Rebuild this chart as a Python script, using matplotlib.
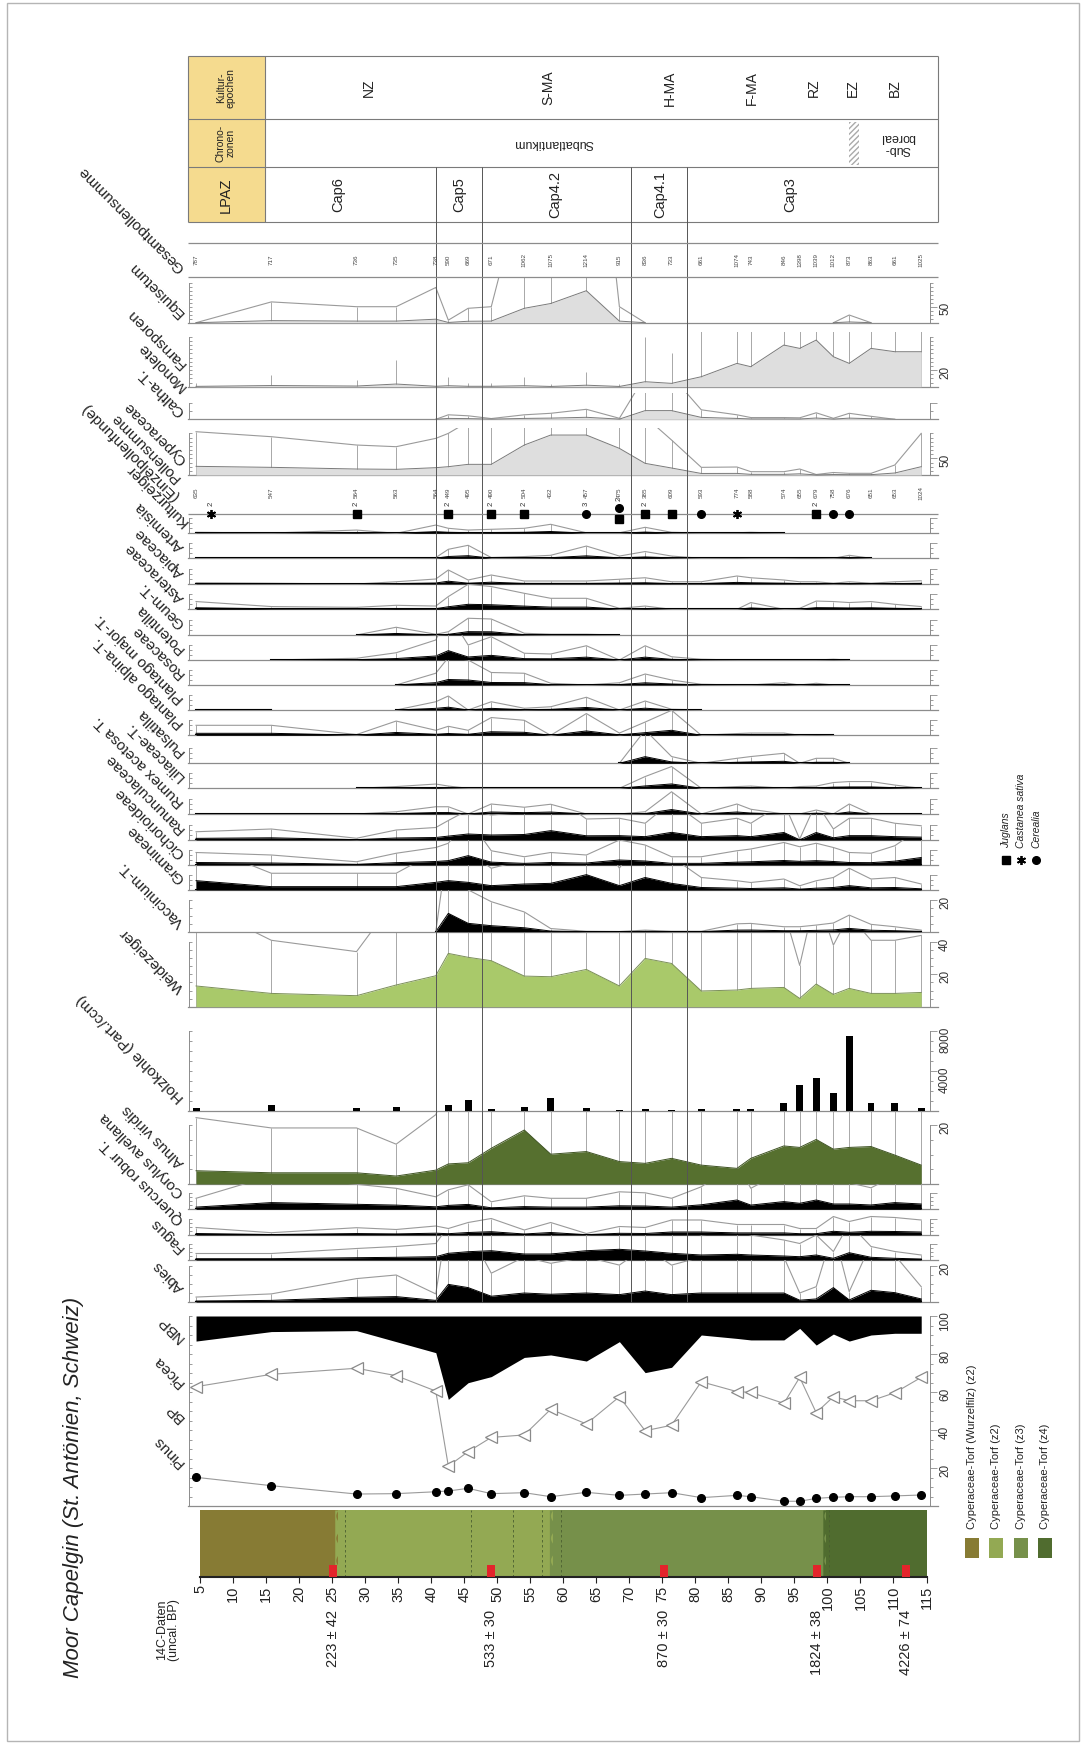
import numpy as np
import matplotlib
matplotlib.use('Agg')
import matplotlib.pyplot as plt
import matplotlib.transforms as mtrans
from matplotlib.patches import Rectangle

plt.rcParams['font.family'] = ['Liberation Sans', 'DejaVu Sans']

nan = np.nan

# ---- data -------------------------------------------------------------
depth = [4.4, 15.8, 28.7, 34.7, 40.7, 42.6, 45.6, 49.1, 54.1, 58.1, 63.5, 68.5, 72.4,
         76.4, 80.9, 86.3, 88.4, 93.4, 95.8, 98.3, 100.9, 103.3, 106.6, 110.2, 114.2]

zone_bounds = [40.7, 47.7, 70.2, 78.7]
lpaz_names = ['Cap6', 'Cap5', 'Cap4.2', 'Cap4.1', 'Cap3']
lpaz_pos = [26.0, 44.2, 58.8, 74.7, 94.4]
kultur_names = ['NZ', 'S-MA', 'H-MA', 'F-MA', 'RZ', 'EZ', 'BZ']
kultur_pos = [30.6, 57.7, 76.2, 88.6, 97.9, 103.9, 110.2]
chrono_names = ['Subatlantikum', 'Sub-\nboreal']
chrono_pos = [58.5, 110.6]
chrono_hatch = [103.3, 104.8]

gesamt = [787, 717, 736, 735, 738, 590, 669, 671, 1062, 1075, 1214, 915, 836, 733, 661,
          1074, 743, 846, 1398, 1039, 1012, 873, 863, 661, 1025]
pollensumme = [635, 547, 564, 563, 564, 449, 495, 490, 504, 432, 457, 475, 385, 609, 593,
               774, 588, 574, 655, 679, 758, 676, 651, 653, 1024]

equisetum = [0, 6.5, 5, 5, 11, 0.8, 4.5, 5, 45, 60, 100, 5, 0, nan, nan, nan, nan, nan,
             nan, nan, 0, 2.4, 0, nan, nan]
monolete = [0.4, 1.4, 0.8, 3.2, 0.5, 1.2, 0.5, 0.5, 1.2, 0.3, 1.8, 0.3, 6, 4, 12, 28, 24,
            50, 46, 56, 36, 28, 46, 42, 42]
caltha = [nan, nan, nan, nan, 0, 0.9, 0.7, 0.15, 0.9, 1.2, 2, 0.2, 8.7, 8.7, 1.9, 0.9,
          0.35, 0.35, 0.3, 1.3, 0.2, 1.2, 0.6, 0, nan]
cyperaceae = [26, 23, 18, 17, 22, 25, 32, 32, 90, 120, 120, 80, 35, 21, 4.6, 4.8, 2, 2,
              3.6, 0.3, 1.5, 1, 1, 6, 25]

# Kulturzeiger (single finds)
kz_depth = [6.7, 28.7, 42.6, 49.1, 54.1, 63.5, 68.5, 68.5, 72.4, 76.4, 80.9, 86.3, 98.3, 100.9, 103.3]
kz_marker = ['*', 's', 's', 's', 's', 'o', 'o', 's', 's', 's', 'o', '*', 's', 'o', 'o']
kz_count = ['2', '2', '2', '2', '2', '3', '2', '', '2', '', '', '', '2', '', '']
kz_row = [0, 0, 0, 0, 0, 0, -1, 1, 0, 0, 0, 0, 0, 0, 0]
kz_legend = ['Juglans', 'Castanea sativa', 'Cerealia']
kz_legend_marker = ['s', '*', 'o']

herb_unnamed = [0.04, 0.01, 0.13, 0, 0.33, 0.2, 0.13, 0.16, 0.2, 0.36, 0.02, 0.02, 0.24, 0.04,
                0.01, 0.02, 0.04, 0, nan, nan, nan, nan, nan, nan, nan]
artemisia = [0, 0, 0, 0, 0.03, 0.36, 0.52, 0.03, 0.07, 0.12, 0.49, 0.09, 0.27, 0.09, 0, 0.03,
             0, 0, 0.03, 0.03, 0, 0.12, 0, nan, nan]
apiaceae = [0.05, 0.03, 0, 0.09, 0.2, 0.56, 0.16, 0.36, 0.12, 0.12, 0.12, 0.19, 0.25, 0.09,
            0.09, 0.32, 0.25, 0.16, 0.09, 0.09, 0.03, 0.09, 0.03, 0.09, 0.13]
asteraceae = [0.31, 0.11, 0.08, 0.16, 0.13, 0.51, 1.0, 0.91, 0.64, 0.44, 0.44, 0.04, 0.13, 0,
              0, 0, 0.27, 0, 0.04, 0.33, 0.31, 0.27, 0.31, 0.2, 0.11]
geum = [nan, nan, 0, 0.31, 0.03, 0.13, 0.67, 0.64, 0.07, 0.03, 0.03, 0, nan, nan, nan, nan,
        nan, nan, nan, nan, nan, nan, nan, nan, nan]
potentilla = [nan, 0, 0.07, 0.29, 0.8, 1.87, 0.6, 0.93, 0.27, 0.24, 0.57, 0, 0.57, 0.13, 0.03,
              0, 0, 0, 0, 0, 0.03, 0, nan, nan, nan]
rosaceae = [nan, nan, nan, 0, 0.47, 1.1, 1.0, 0.5, 0.47, 0.07, 0, 0.09, 0.44, 0.2, 0.03, 0, 0,
            0.09, 0, 0.07, 0, 0, nan, nan, nan]
plantago_major = [0.04, 0.04, nan, 0, 0.33, 0.56, 0, 0.33, 0.07, 0.13, 0.51, 0, 0.36, 0.03, 0,
                  nan, nan, nan, nan, nan, nan, nan, nan, nan, nan]
plantago_alpina = [0.4, 0.4, 0.03, 0.57, 0.2, 0.36, 0.2, 0.71, 0.6, 0, 0.87, 0.09, 0.53, 1.0, 0,
                   0.07, 0.09, 0.09, 0, 0.03, 0, nan, nan, nan, nan]
pulsatilla = [nan, nan, nan, nan, nan, nan, nan, nan, nan, nan, nan, 0, 1.33, 0.27, 0, 0.2,
              0.27, 0.4, 0, 0.2, 0.2, 0, nan, nan, nan]
liliaceae = [nan, nan, 0, 0.07, 0.17, 0.09, 0, 0, 0, 0, 0, 0, 0.47, 0.87, 0, 0.07, 0.09, 0,
             0.07, 0.09, 0.23, 0.27, 0.27, 0.13, 0]
rumex = [0, 0, 0, 0.09, 0.29, 0.29, 0, 0.4, 0.27, 0.39, 0, 0, 0.09, 0.89, 0, 0.4, 0.19, 0, 0,
         0.16, 0, 0.4, 0, 0, 0]
ranunculaceae = [0.33, 0.44, 0.07, 0.4, 0.5, 0.78, 1.2, 1.0, 1.1, 1.87, 0.84, 0.87, 0.67, 1.53,
                 0.67, 0.87, 0.67, 1.5, 0.04, 1.5, 0.44, 0.87, 0.87, 0.67, 0.57]
cichorioideae = [0.5, 0.4, 0.13, 0.47, 0.7, 0.87, 1.87, 0.57, 0.33, 0.5, 0.4, 1.0, 0.8, 0.33,
                 0.33, 0.57, 0.64, 0.9, 0.73, 0.87, 0.7, 0.5, 0.47, 0.77, 1.5]
gramineae = [1.87, 0.67, 0.67, 0.67, 1.53, 1.87, 1.53, 0.87, 1.2, 1.33, 3.07, 0.87, 2.5, 1.33,
             0.5, 0.37, 0.3, 0.44, 0.17, 0.37, 0.5, 0.87, 0.44, 0.5, 0.24]

vaccinium = [nan, nan, nan, nan, 0, 11.6, 5.3, 3.8, 2.5, 0.4, 0.05, 0.02, 0.2, 0.05, 0.05, 1.0,
             1.05, 0.63, 0.63, 0.84, 1.1, 2.1, 0.93, 0.63, 0.2]
weidezeiger = [12.8, 8.2, 6.8, 13.4, 19.1, 32.9, 30.5, 28.4, 18.9, 18.5, 23, 12.8, 29.8, 26.7,
               9.7, 10.3, 11.3, 11.9, 5.1, 14, 7.6, 11.3, 8.2, 8.2, 8.8]
holzkohle = [300, 570, 300, 400, 0, 570, 1070, 200, 400, 1230, 230, 70, 130, 70, 170, 200, 130,
             800, 2570, 3230, 1730, 7470, 730, 800, 230]
alnus = [4.5, 3.8, 3.8, 2.7, 4.7, 6.8, 7.2, 12.1, 18.3, 10.1, 11, 7.6, 7, 8.7, 6.4, 5.3, 8.7,
         12.9, 12.4, 15.1, 11.8, 12.4, 12.7, 9.8, 6.4]
corylus = [2.2, 6.7, 5, 4.2, 2.5, 3.9, 4.9, 1.5, 2.7, 2.2, 2.2, 3.5, 3.3, 2.2, 4.5, 9.3, 4.2,
           7.7, 6, 9.3, 5.3, 5.3, 4.3, 6.7, 5.3]
quercus = [1.5, 0.46, 1.46, 1.1, 1.8, 1.3, 2.5, 3.3, 1, 2.5, 0.3, 1.7, 1.5, 3, 3, 2.1, 2.1, 2.1,
           1.3, 1.3, 3.7, 2.7, 3.7, 3.5, 3]
fagus = [1.3, 1.3, 2.3, 2.7, 3.3, 6.7, 8.3, 9.3, 6, 6, 9.3, 10.7, 9, 6.7, 5, 5.7, 5, 4, 3.3, 5,
         1.7, 7.3, 2.7, 1.7, 1]
abies = [0.55, 0.9, 2.6, 3, 0.9, 9.8, 8, 3.2, 5, 4.3, 5, 4.1, 6.1, 4.1, 5, 5, 5, 5, 1.0, 1.7, 8,
         1.15, 6.5, 5.2, 1.7]

bp = [86.8, 91.8, 92.3, 86.5, 80.7, 56.1, 64.9, 68.1, 78.2, 79.5, 76.3, 86.5, 70.2, 73, 90,
      88.2, 87.4, 87.4, 93.5, 84.7, 90.5, 86.8, 90, 90.9, 90.9]
picea = [62.8, 69.3, 72.5, 68.6, 60.5, 21, 28.6, 36.1, 37.4, 50.9, 43.2, 57.5, 39.6, 42.5,
         65.4, 60.2, 59.8, 54, 67.7, 49.1, 57.5, 55.4, 55.4, 59.6, 67.7]
pinus = [15.1, 10.7, 6.3, 6.5, 7.5, 7.9, 9.3, 6.5, 7, 4.9, 7.2, 5.6, 6.3, 7, 4.4, 5.6, 4.9, 2.5,
         2.5, 4, 4.6, 4.9, 4.9, 5.3, 5.8]

litho_bounds = [5, 25.9, 58.4, 99.8, 115]
litho_colors = ['#877b34', '#93a953', '#76904a', '#506c2f']
litho_names = ['Cyperaceae-Torf (Wurzelfilz) (z2)', 'Cyperaceae-Torf (z2)',
               'Cyperaceae-Torf (z3)', 'Cyperaceae-Torf (z4)']
litho_dashes = [27.0, 46.1, 52.4, 56.8, 59.6, 100.2]
date_depth = [25.2, 49.0, 75.2, 98.4, 111.9]
date_labels = ['223 ± 42', '533 ± 30', '870 ± 30', '1824 ± 38', '4226 ± 74']

# ---- layout -----------------------------------------------------------
W, H = 1082, 1744
X0, X1 = 189, 930
GRAY = '#8c8c8c'
LINE = '#9a9a9a'
ASTERISK = (6, 2, 0)

fig = plt.figure(figsize=(W / 100, H / 100), dpi=100)


def dep(px):
    return 5 + (px - 200) * 110 / 726.5


def fbox(x0, top, x1, bottom):
    return [x0 / W, 1 - bottom / H, (x1 - x0) / W, (bottom - top) / H]


def runs(v):
    ok = ~np.isnan(v)
    out, i = [], 0
    while i < len(v):
        if ok[i]:
            j = i
            while j < len(v) and ok[j]:
                j += 1
            out.append(slice(i, j))
            i = j
        else:
            i += 1
    return out


def make_panel(top, bottom, ymax):
    ax = fig.add_axes(fbox(X0, top, X1, bottom))
    ax.set_xlim(dep(X0), dep(X1))
    ax.set_ylim(0, ymax)
    ax.patch.set_alpha(0)
    for s in ax.spines.values():
        s.set_visible(False)
    ax.set_xticks([])
    ax.set_yticks([])
    ax.plot([dep(188), dep(938)], [0, 0], color=GRAY, lw=0.9, clip_on=False, zorder=1)
    return ax


def add_scale(ax, top, step, labels=()):
    minor = np.arange(0, top + step * 0.01, step)
    ax.spines['left'].set_visible(True)
    ax.spines['left'].set_bounds(0, top)
    ax.spines['left'].set_color(GRAY)
    ax.spines['left'].set_linewidth(0.7)
    ax.set_yticks(minor)
    ax.tick_params(axis='y', direction='in', length=2.5, width=0.6, color=GRAY, labelleft=False)
    sec = ax.secondary_yaxis('right')
    sec.spines['right'].set_bounds(0, top)
    sec.spines['right'].set_color(GRAY)
    sec.spines['right'].set_linewidth(0.7)
    major = list(labels) if labels else [top]
    sec.set_yticks(major, labels=[str(m) if labels else '' for m in major])
    sec.set_yticks(minor, minor=True)
    sec.tick_params(which='major', direction='out', length=5, width=0.6, color=GRAY,
                    labelsize=8.5, labelrotation=90, pad=1.5, labelcolor='#333333')
    sec.tick_params(which='minor', direction='out', length=2.5, width=0.6, color=GRAY)


def draw_taxon(ax, values, exag, fill, edge, outline=True, drops=True, black_base=False):
    v = np.asarray(values, float)
    d = np.asarray(depth, float)
    for r in runs(v):
        dd, vv = d[r], v[r]
        if drops:
            ax.vlines(dd, 0, vv * exag, color=LINE, lw=0.6, zorder=2)
        if outline:
            ax.plot(dd, vv * exag, color=LINE, lw=0.8, zorder=2)
        ax.fill_between(dd, 0, vv, color=fill, lw=0, zorder=3)
        ax.plot(dd, vv, color=edge, lw=0.7, zorder=3)
        if black_base:
            ax.plot(dd, np.zeros_like(dd), color='k', lw=1.5, zorder=3)


# ---- upper panels ------------------------------------------------------
ax = make_panel(277.3, 322.7, 45.4 / 0.32)
draw_taxon(ax, equisetum, 10, '#dedede', '#7a7a7a')
add_scale(ax, 125, 12.5, [50])

ax = make_panel(332, 386.7, 54.7 / 0.833)
draw_taxon(ax, monolete, 10, '#dedede', '#7a7a7a', outline=False)
add_scale(ax, 60, 5, [20])

ax = make_panel(393.3, 419.3, 26)
draw_taxon(ax, caltha, 5, '#dedede', '#7a7a7a')
add_scale(ax, 16, 8)

ax = make_panel(427.7, 475, 47.3 / 0.333)
draw_taxon(ax, cyperaceae, 5, '#dedede', '#7a7a7a')
add_scale(ax, 125, 12.5, [50])

# herb strips
herbs = [herb_unnamed, artemisia, apiaceae, asteraceae, geum, potentilla, rosaceae,
         plantago_major, plantago_alpina, pulsatilla, liliaceae, rumex, ranunculaceae,
         cichorioideae, gramineae]
herb_names = ['', 'Artemisia', 'Apiaceae', 'Asteraceae', 'Geum-T.', 'Potentilla', 'Rosaceae',
              'Plantago major-T.', 'Plantago alpina-T.', 'Pulsatilla', 'Liliaceae-T.',
              'Rumex acetosa T.', 'Ranunculaceae', 'Cichorioideae', 'Gramineae']
herb_base = [533.3, 558.3, 584, 609.3, 635, 660, 685, 710, 735.3, 763.3, 788.3, 814, 840, 865, 890]
herb_top = [516] + herb_base[:-1]
for vals, top, base in zip(herbs, herb_top, herb_base):
    ax = make_panel(top, base, (base - top) / 5)
    draw_taxon(ax, vals, 5, 'k', 'k', black_base=True)
    add_scale(ax, 3, 1)

ax = make_panel(890, 931.7, 41.7 / 1.58)
draw_taxon(ax, vaccinium, 5, 'k', 'k', black_base=True)
add_scale(ax, 20, 5, [20])

ax = make_panel(933, 1006.7, 73.7 / 1.62)
draw_taxon(ax, weidezeiger, 5, '#a9c96a', '#7b8f58')
add_scale(ax, 40, 5, [20, 40])

ax = make_panel(1006.7, 1110.7, 10400)
ax.bar(depth, holzkohle, width=1.05, color='k', zorder=3)
add_scale(ax, 8000, 1000, [4000, 8000])

ax = make_panel(1110.7, 1184, 73.3 / 2.95)
draw_taxon(ax, alnus, 5, '#56702f', '#3e5322')
add_scale(ax, 20, 5, [20])

ax = make_panel(1184, 1209.3, 25.3)
draw_taxon(ax, corylus, 5, 'k', 'k', black_base=True)
add_scale(ax, 16, 4)

ax = make_panel(1209.3, 1235, 25.7)
draw_taxon(ax, quercus, 5, 'k', 'k', black_base=True)
add_scale(ax, 16, 4)

ax = make_panel(1235, 1260, 25)
draw_taxon(ax, fagus, 5, 'k', 'k', black_base=True)
add_scale(ax, 16, 4)

ax = make_panel(1260, 1302, 42 / 1.8)
draw_taxon(ax, abies, 5, 'k', 'k', black_base=True)
add_scale(ax, 20, 5, [20])

# BP / NBP / Picea / Pinus
ax = make_panel(1316, 1506, 100)
ax.fill_between(depth, bp, 100, color='k', lw=0, zorder=2)
ax.plot(depth, picea, color='#9a9a9a', lw=0.8, marker='<', ms=8, mfc='white', mec='#8a8a8a',
        mew=0.9, zorder=3, clip_on=False)
ax.plot(depth, pinus, color='#9a9a9a', lw=0.8, marker='o', ms=5.5, mfc='k', mec='k',
        zorder=3, clip_on=False)
add_scale(ax, 100, 5, [20, 40, 60, 80, 100])

# lithology
axl = fig.add_axes(fbox(X0, 1510, X1, 1577))
axl.set_xlim(dep(X0), dep(X1))
axl.set_ylim(0, 1)
axl.patch.set_alpha(0)
for i, c in enumerate(litho_colors):
    axl.axvspan(litho_bounds[i], litho_bounds[i + 1], color=c, lw=0)
wave = np.linspace(0, 1, 60)
for i in range(1, len(litho_bounds) - 1):
    b = litho_bounds[i]
    axl.fill_betweenx(wave, b - 0.5, b + 0.35 * np.sin(wave * 6 * np.pi), color=litho_colors[i], lw=0)
axl.vlines(litho_dashes, 0, 1, colors='#4a5e30', linestyles=(0, (3, 3)), lw=0.6)
axl.bar(date_depth, 0.18, width=1.2, bottom=0, color='#e3242b', zorder=3)
for s in ['top', 'left', 'right']:
    axl.spines[s].set_visible(False)
axl.spines['bottom'].set_bounds(5, 115)
axl.spines['bottom'].set_linewidth(1.5)
axl.spines['bottom'].set_color('#222222')
axl.set_yticks([])
axl.set_xticks(np.arange(5, 116, 5))
axl.tick_params(axis='x', labelrotation=90, labelsize=10.5, length=4, width=0.8, pad=2,
                color='#222222', labelcolor='#222222')
blend = mtrans.blended_transform_factory(axl.transData, fig.transFigure)
for d, lab in zip(date_depth, date_labels):
    axl.text(d, 1 - 1610 / H, lab, transform=blend, rotation=90, ha='center', va='top',
             fontsize=10.5, color='#222222')

# ---- overlay (depth x, pixel y) ---------------------------------------
ax_o = fig.add_axes([0, 0, 1, 1])
ax_o.set_xlim(dep(0), dep(W))
ax_o.set_ylim(H, 0)
ax_o.axis('off')
ax_o.patch.set_alpha(0)
ax_o.set_zorder(10)

TL, TR = dep(188), dep(938)
ax_o.add_patch(Rectangle((TL, 56), dep(265) - TL, 222 - 56, fc='#f5db8f', ec='none', zorder=0))
ax_o.hlines([56, 119.3, 167.3, 222], TL, TR, color='#7a7a7a', lw=0.8)
ax_o.vlines([TL, dep(265), TR], 56, 222, color='#7a7a7a', lw=0.8)
ax_o.vlines(zone_bounds, 167.3, 1302, color='#555555', lw=0.7)
ax_o.add_patch(Rectangle((chrono_hatch[0], 122), chrono_hatch[1] - chrono_hatch[0], 43,
                         fill=False, hatch='//////', ec='#aaaaaa', lw=0))
for name, p in zip(kultur_names, kultur_pos):
    ax_o.text(p, 88, name, rotation=90, ha='center', va='center', fontsize=10, color='#222')
for name, p in zip(chrono_names, chrono_pos):
    ax_o.text(p, 143, name, rotation=180, ha='center', va='center', fontsize=9,
              color='#222', linespacing=1.0)
for name, p in zip(lpaz_names, lpaz_pos):
    ax_o.text(p, 195, name, rotation=90, ha='center', va='center', fontsize=10.5, color='#222')
ax_o.text(dep(226), 88, 'Kultur-\nepochen', rotation=90, ha='center', va='center',
          fontsize=7.5, color='#222', linespacing=1.0)
ax_o.text(dep(226), 143, 'Chrono-\nzonen', rotation=90, ha='center', va='center',
          fontsize=7.5, color='#222', linespacing=1.0)
ax_o.text(dep(226), 195, 'LPAZ', rotation=90, ha='center', va='center', fontsize=10.5, color='#222')

# pollen sum rows
ax_o.hlines([243.3, 277.3], TL, TR, color=GRAY, lw=0.9)
for d, n in zip(depth, gesamt):
    ax_o.text(d, 260, str(n), rotation=90, ha='center', va='center', fontsize=4.5, color='#444')
for d, n in zip(depth, pollensumme):
    ax_o.text(d, 493, str(n), rotation=90, ha='center', va='center', fontsize=4.5, color='#444')

# Kulturzeiger symbols
ax_o.hlines(514, TL, TR, color=GRAY, lw=0.9)
for d, m, c, r in zip(kz_depth, kz_marker, kz_count, kz_row):
    y = 514 + 5.5 * r
    mk = ASTERISK if m == '*' else m
    ax_o.plot(d, y, marker=mk, ms=6.5 if m == '*' else 5.5, color='k', mew=1.3 if m == '*' else 1,
              ls='none')
    if c:
        ax_o.text(d, y - 10, c, rotation=90, ha='center', va='center', fontsize=5.5, color='#333')
for i, (lab, m) in enumerate(zip(kz_legend, kz_legend_marker)):
    xp = 1006 + 15 * i
    mk = ASTERISK if m == '*' else m
    ax_o.plot(dep(xp), 860, marker=mk, ms=6.5 if m == '*' else 5.5, color='k',
              mew=1.3 if m == '*' else 1, ls='none')
    ax_o.text(dep(xp), 848, lab, rotation=90, rotation_mode='anchor', ha='left', va='center',
              fontsize=7.5, style='italic', color='#222')

# lithology legend
for i, (lab, c) in enumerate(zip(litho_names, litho_colors)):
    xc = 972 + 24.3 * i
    ax_o.add_patch(Rectangle((dep(xc - 7), 1538), dep(xc + 7) - dep(xc - 7), 20, fc=c, ec='none'))
    ax_o.text(dep(xc), 1529, lab, rotation=90, rotation_mode='anchor', ha='left', va='center',
              fontsize=8, color='#222')

# taxon labels (single-line texts, two-line labels placed as separate lines)
label_text = ['Gesamtpollensumme', 'Equisetum', 'Monolete', 'Farnsporen', 'Caltha-T.',
              'Cyperaceae', 'Pollensumme', 'Kulturzeiger', '(Einzelpollenfunde)'] + herb_names[1:] + \
             ['Vaccinium-T.', 'Weidezeiger', 'Holzkohle (Part./ccm)', 'Alnus viridis',
              'Corylus avellana', 'Quercus robur T.', 'Fagus', 'Abies', 'NBP', 'Picea', 'BP', 'Pinus']
label_x = [182, 182, 184, 184, 182, 184, 178, 186, 176] + [182] * 14 + [182] * 12
label_y = [270, 315, 389, 366, 414, 462, 480, 524, 498] + [b - 9 for b in herb_base[1:]] + \
          [925, 990, 1100, 1165, 1195, 1222, 1250, 1290, 1340, 1385, 1420, 1465]
for lab, x, y in zip(label_text, label_x, label_y):
    ax_o.text(dep(x), y, lab, rotation=135, rotation_mode='anchor', ha='left', va='center',
              fontsize=11, color='#222')

ax_o.text(dep(168), 1630, '14C-Daten\n(uncal. BP)', rotation=90, ha='center', va='center',
          fontsize=9, color='#222', linespacing=1.0)
ax_o.text(dep(74), 1487, 'Moor Capelgin (St. Antönien, Schweiz)', rotation=90, ha='center',
          va='center', fontsize=16, style='italic', color='#222')

fig.add_artist(Rectangle((7 / W, 3 / H), (1079 - 7) / W, (1741 - 3) / H,
                         transform=fig.transFigure, fill=False, ec='#b5b5b5', lw=1))

fig.savefig('out.png', dpi=100)
